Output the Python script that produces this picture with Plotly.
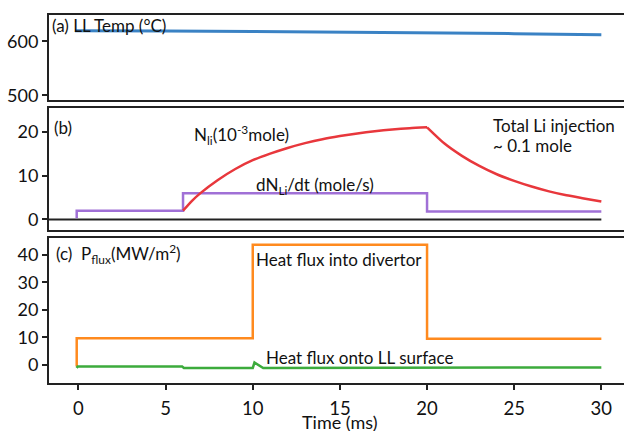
import plotly.graph_objects as go

# ---------------- data ----------------
temp_t = [-0.2, 0, 5, 10, 15, 20, 25, 30]
temp_v = [620, 620, 619.3, 618.5, 617.5, 616.3, 614.5, 612.3]

dndt_t = [-0.1, -0.1, 6, 6, 20, 20, 30]
dndt_v = [0.3, 2.0, 2.0, 6.0, 6.0, 1.8, 1.8]

nli_rise_t = [6, 6.5, 7, 8, 9, 10, 11, 12, 13, 14, 15, 16, 17, 18, 19, 20]
nli_rise_v = [2.0, 4.2, 6.0, 9.0, 11.5, 13.5, 15.0, 16.3, 17.4, 18.3, 19.0, 19.6, 20.1, 20.5, 20.8, 21.0]
nli_fall_t = [20, 21, 22, 23, 24, 25, 26, 27, 28, 29, 30]
nli_fall_v = [21.0, 17.3, 14.5, 12.2, 10.3, 8.8, 7.5, 6.4, 5.5, 4.8, 4.1]

div_t = [-0.1, -0.1, 10, 10, 20, 20, 30]
div_v = [-0.7, 9.6, 9.6, 43.7, 43.7, 9.5, 9.5]

ll_t = [-0.1, -0.05, 5.95, 6.05, 10.0, 10.1, 10.6, 30]
ll_v = [-1.2, -0.7, -0.7, -1.2, -1.2, 0.8, -1.2, -1.0]

zero_t = [-1.69, 30]
zero_v = [0, 0]

x_ticks = [0, 5, 10, 15, 20, 25, 30]
ya_ticks = [500, 600]
yb_ticks = [0, 10, 20]
yc_ticks = [0, 10, 20, 30, 40]

# ---------------- figure ----------------
FONT = "Lato"
LINE = "#222222"
TICKF = dict(family=FONT, size=18, color="#111111")

fig = go.Figure()
fig.add_trace(go.Scatter(x=temp_t, y=temp_v, mode="lines", line=dict(color="#3a82c4", width=3),
                         xaxis="x", yaxis="y", hoverinfo="skip"))
fig.add_trace(go.Scatter(x=zero_t, y=zero_v, mode="lines", line=dict(color="#222222", width=2),
                         xaxis="x2", yaxis="y2", hoverinfo="skip"))
fig.add_trace(go.Scatter(x=dndt_t, y=dndt_v, mode="lines", line=dict(color="#a070d6", width=2.5),
                         xaxis="x2", yaxis="y2", hoverinfo="skip"))
for tt, vv in [(nli_rise_t, nli_rise_v), (nli_fall_t, nli_fall_v)]:
    fig.add_trace(go.Scatter(x=tt, y=vv, mode="lines",
                             line=dict(color="#e8373c", width=2.5, shape="spline", smoothing=0.6),
                             xaxis="x2", yaxis="y2", hoverinfo="skip"))
fig.add_trace(go.Scatter(x=div_t, y=div_v, mode="lines", line=dict(color="#ff8a1e", width=2.5),
                         xaxis="x3", yaxis="y3", hoverinfo="skip"))
fig.add_trace(go.Scatter(x=ll_t, y=ll_v, mode="lines", line=dict(color="#3cab3c", width=2.5),
                         xaxis="x3", yaxis="y3", hoverinfo="skip"))

xr = [-1.69, 31.3]
xcommon = dict(range=xr, domain=[0, 1], showline=True, mirror=True, linecolor=LINE, linewidth=2,
               showgrid=False, zeroline=False, fixedrange=True)
ycommon = dict(showline=True, mirror=False, linecolor=LINE, linewidth=2, showgrid=False, zeroline=False,
               ticks="outside", ticklen=5, tickwidth=1.5, tickcolor=LINE, tickfont=TICKF, fixedrange=True)

fig.update_layout(
    width=624, height=431,
    margin=dict(l=49, r=0, t=0, b=0),
    paper_bgcolor="white", plot_bgcolor="white",
    showlegend=False,
    font=dict(family=FONT, color="#111111"),
    xaxis=dict(anchor="y", showticklabels=False, ticks="", **xcommon),
    xaxis2=dict(anchor="y2", showticklabels=False, ticks="", **xcommon),
    xaxis3=dict(anchor="y3", tickvals=x_ticks, ticks="outside", ticklen=5, tickwidth=1.5, tickcolor=LINE,
                ticklabelstandoff=2,
                tickfont=dict(family=FONT, size=18.5, color="#111111"), **xcommon),
    yaxis=dict(anchor="x", domain=[0.7645, 0.9652], range=[490.9, 649.4], tickvals=ya_ticks, **ycommon),
    yaxis2=dict(anchor="x2", domain=[0.4594, 0.7471], range=[-2.47, 25.46], tickvals=yb_ticks, **ycommon),
    yaxis3=dict(anchor="x3", domain=[0.0998, 0.4408], range=[-6.85, 46.1], tickvals=yc_ticks, **ycommon),
)

AF = dict(family=FONT, size=17, color="#111111")
ann = [
    dict(text="(a) LL Temp (°C)", x=-1.62, y=630.2, xref="x", yref="y"),
    dict(text="(b)", x=-1.50, y=21.0, xref="x2", yref="y2"),
    dict(text="N<sub>li</sub>(10<sup>-3</sup>mole)", x=6.5, y=19.2, xref="x2", yref="y2"),
    dict(text="dN<sub>Li</sub>/dt (mole/s)", x=10.08, y=7.6, xref="x2", yref="y2"),
    dict(text="Total Li injection", x=23.68, y=21.5, xref="x2", yref="y2"),
    dict(text="~ 0.1 mole", x=23.68, y=16.8, xref="x2", yref="y2"),
    dict(text="(c)  P<sub>flux</sub>(MW/m<sup>2</sup>)", x=-1.40, y=40.4, xref="x3", yref="y3"),
    dict(text="Heat flux into divertor", x=10.08, y=38.2, xref="x3", yref="y3"),
    dict(text="Heat flux onto LL surface", x=10.65, y=2.5, xref="x3", yref="y3"),
]
for a in ann:
    fig.add_annotation(showarrow=False, xanchor="left", yanchor="middle", font=AF, **a)
fig.add_annotation(text="Time (ms)", x=15, y=(431 - 427) / 431, xref="x3", yref="paper",
                   showarrow=False, xanchor="center", yanchor="middle",
                   font=dict(family=FONT, size=18, color="#111111"))

fig.write_html("out.html")
